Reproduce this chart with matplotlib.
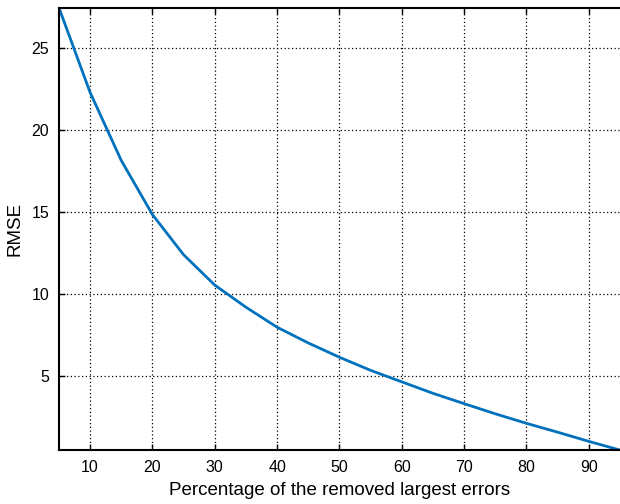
import matplotlib.pyplot as plt

plt.rcParams['font.family'] = ['Liberation Sans', 'DejaVu Sans']

percent = [5, 10, 15, 20, 25, 30, 35, 40, 45, 50, 55, 60, 65, 70, 75, 80, 85, 90, 95]
rmse = [27.47, 22.3, 18.15, 14.85, 12.4, 10.55, 9.2, 7.98, 7.02, 6.15, 5.35, 4.65, 3.95,
        3.32, 2.7, 2.12, 1.58, 1.02, 0.49]
xticks = [10, 20, 30, 40, 50, 60, 70, 80, 90]
yticks = [5, 10, 15, 20, 25]

fig = plt.figure(figsize=(6.2, 5.04), dpi=100)
ax = fig.add_axes([0.095, 0.107, 0.905, 0.878])

ax.plot(percent, rmse, color=(0, 0.447, 0.741), linewidth=2)
ax.set_xlim(min(percent), max(percent))
ax.set_ylim(min(rmse), max(rmse))
ax.set_xticks(xticks)
ax.set_yticks(yticks)

ax.grid(True, color='black', linestyle=(0, (1, 2)), linewidth=0.9)
ax.tick_params(direction='in', length=4, width=1, labelsize=11.5, top=True, right=False,
               colors='black', pad=7)
for s in ax.spines.values():
    s.set_linewidth(1.5)
ax.spines['right'].set_visible(False)

ax.set_xlabel('Percentage of the removed largest errors', fontsize=13.5, labelpad=5)
ax.set_ylabel('RMSE', fontsize=13.5, labelpad=6)

plt.savefig('out.png', dpi=100)
